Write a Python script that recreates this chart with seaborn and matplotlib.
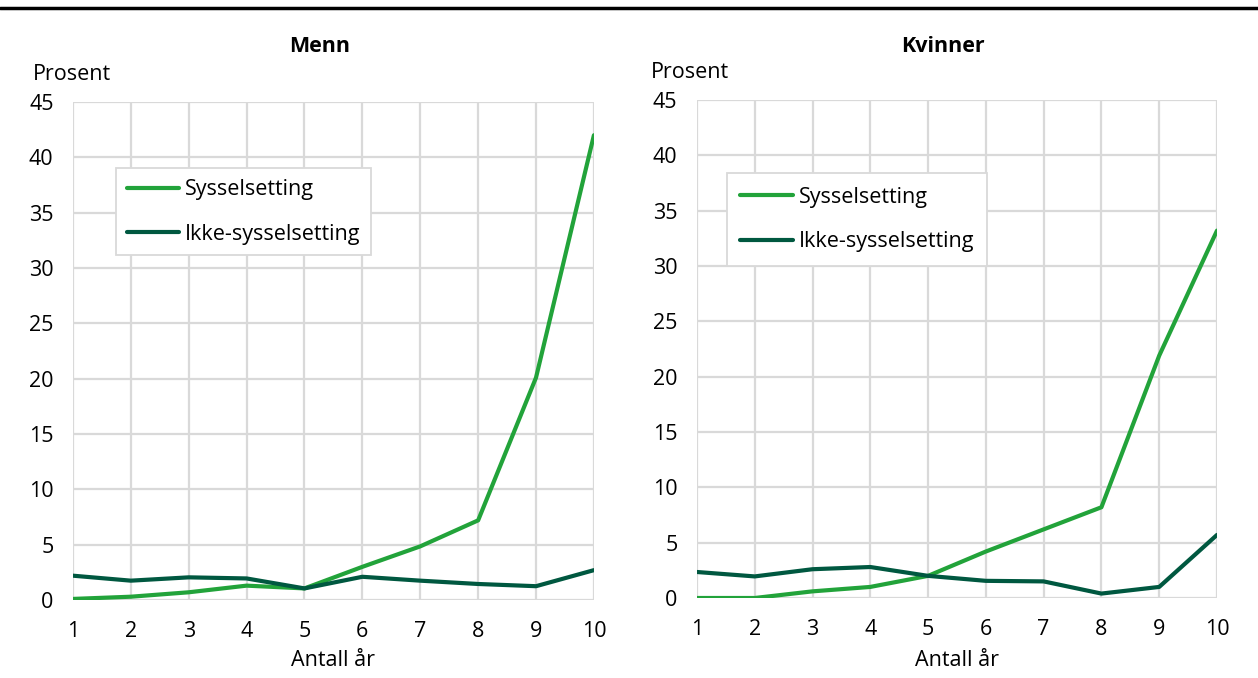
import matplotlib
matplotlib.use("Agg")
import matplotlib.pyplot as plt
from matplotlib.lines import Line2D
import seaborn as sns
import pandas as pd

# Data: share (percent) by number of years
years = [1, 2, 3, 4, 5, 6, 7, 8, 9, 10]
menn_syss = [0.1, 0.3, 0.7, 1.3, 1.05, 3.0, 4.85, 7.2, 20.1, 42.0]
menn_ikke = [2.2, 1.75, 2.05, 1.95, 1.05, 2.1, 1.75, 1.45, 1.25, 2.7]
kvinner_syss = [0.0, 0.0, 0.6, 1.0, 2.0, 4.2, 6.2, 8.2, 21.9, 33.2]
kvinner_ikke = [2.35, 1.95, 2.6, 2.8, 2.0, 1.55, 1.5, 0.4, 1.0, 5.7]

series_names = ["Sysselsetting", "Ikke-sysselsetting"]
panel_titles = ["Menn", "Kvinner"]
yticks = [0, 5, 10, 15, 20, 25, 30, 35, 40, 45]
palette = {"Sysselsetting": "#22a33a", "Ikke-sysselsetting": "#005840"}
FS = 15.5


def long_frame(syss, ikke):
    return pd.DataFrame({
        "år": years * 2,
        "verdi": syss + ikke,
        "serie": [series_names[0]] * len(years) + [series_names[1]] * len(years),
    })


sns.set_theme(style="white")
plt.rcParams["font.family"] = ["Open Sans", "DejaVu Sans"]
plt.rcParams["text.color"] = "#000000"

fig = plt.figure(figsize=(12.58, 6.78), dpi=100)
ax1 = fig.add_axes([0.058, 0.115, 0.4141, 0.7345])
ax2 = fig.add_axes([0.554, 0.118, 0.4134, 0.7345])

frames = [long_frame(menn_syss, menn_ikke), long_frame(kvinner_syss, kvinner_ikke)]
legend_anchor = [(0.0825, 0.867), (0.058, 0.853)]
legend_pad = [0.5, 0.62]

for ax, df, anchor, bpad in zip([ax1, ax2], frames, legend_anchor, legend_pad):
    sns.lineplot(data=df, x="år", y="verdi", hue="serie", palette=palette,
                 linewidth=3, ax=ax, zorder=3)
    ax.set_xlim(1, 10)
    ax.set_ylim(0, 45)
    ax.set_xticks(years)
    ax.set_yticks(yticks)
    ax.grid(True, color="#d9d9d9", linewidth=1.6)
    ax.set_axisbelow(True)
    for s in ax.spines.values():
        s.set_visible(False)
    ax.tick_params(axis="both", length=0, labelsize=FS, colors="#000000")
    ax.tick_params(axis="y", pad=14)
    ax.tick_params(axis="x", pad=15)
    ax.set_xlabel("")
    ax.set_ylabel("")
    ax.set_facecolor("white")
    leg = ax.legend(loc="upper left", bbox_to_anchor=anchor, fontsize=FS,
                    frameon=True, fancybox=False, handlelength=2.45,
                    handletextpad=0.25, labelspacing=1.1, borderpad=bpad,
                    borderaxespad=0)
    leg.get_frame().set_edgecolor("#d9d9d9")
    leg.get_frame().set_linewidth(1.3)
    leg.get_frame().set_facecolor("white")
    leg.get_frame().set_alpha(1)
    for h in leg.get_lines():
        h.set_linewidth(3)
        h.set_solid_capstyle("round")

# Panel titles, unit labels and axis labels
fig.text(320 / 1258, 1 - 47 / 678, panel_titles[0], ha="center", va="center",
         fontsize=FS, fontweight="bold")
fig.text(943 / 1258, 1 - 47 / 678, panel_titles[1], ha="center", va="center",
         fontsize=FS, fontweight="bold")
fig.text(33 / 1258, 1 - 75 / 678, "Prosent", ha="left", va="center", fontsize=FS)
fig.text(651 / 1258, 1 - 72 / 678, "Prosent", ha="left", va="center", fontsize=FS)
fig.text(333 / 1258, 1 - 661 / 678, "Antall år", ha="center", va="center", fontsize=FS)
fig.text(957 / 1258, 1 - 660 / 678, "Antall år", ha="center", va="center", fontsize=FS)

# Heavy rule across the top
fig.add_artist(Line2D([0, 1], [1 - 8 / 678, 1 - 8 / 678], transform=fig.transFigure,
                      color="black", linewidth=2.5))

fig.savefig("out.png", dpi=100, facecolor="white")
